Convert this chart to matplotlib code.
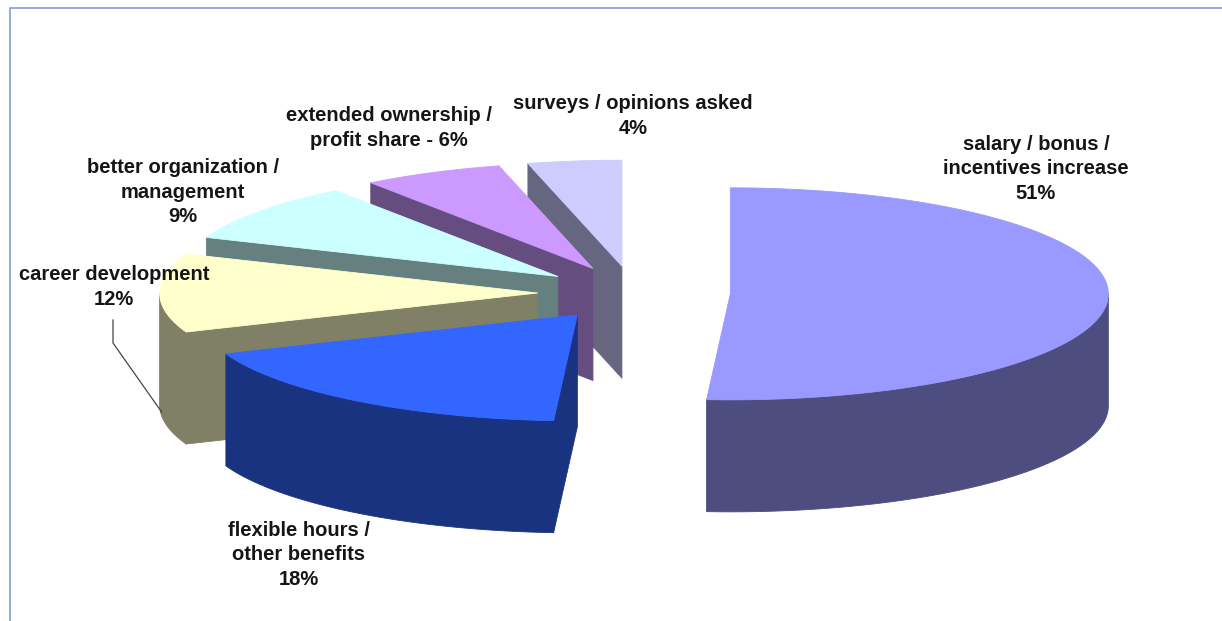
import numpy as np
import matplotlib
matplotlib.use('Agg')
import matplotlib.pyplot as plt
from matplotlib.patches import Polygon
from matplotlib.colors import to_rgb

# Ответы: что повысило бы мотивацию сотрудников
categories = ['salary / bonus /\nincentives increase',
              'flexible hours /\nother benefits',
              'career development',
              'better organization /\nmanagement',
              'extended ownership /\nprofit share',
              'surveys / opinions asked']
shares = [51, 18, 12, 9, 6, 4]
label_sep = ['\n', '\n', '\n', '\n', ' - ', '\n']
top_colors = ['#9999FF', '#3366FF', '#FFFFCC', '#CCFFFF', '#CC99FF', '#CCCCFF']

# Положение подписей (в пикселях холста)
label_xy = [(1036, 169), (299, 555), (114, 287), (183, 192), (389, 128), (633, 116)]

W, H = 1222, 621
CX, CY = 634, 293       # центр круга
RX, RY = 378, 106       # полуоси эллипса
DEPTH = 112             # толщина диска
EXPLODE = 0.255         # вынос секторов


def shade(color, k=0.5):
    return tuple(c * k for c in to_rgb(color))


def point(theta, mid, r=1.0, dz=0.0):
    t = np.radians(theta)
    m = np.radians(mid)
    x = CX + RX * (r * np.sin(t) + EXPLODE * np.sin(m))
    y = CY - RY * (r * np.cos(t) + EXPLODE * np.cos(m)) + dz
    return x, y


def arc(t0, t1, mid, dz=0.0):
    ts = np.linspace(t0, t1, max(int(abs(t1 - t0) * 2), 2))
    xs, ys = point(ts, mid, dz=dz)
    return list(zip(xs, ys))


def draw_slice(ax, t0, t1, color):
    mid = (t0 + t1) / 2
    side = shade(color)
    c_top = point(0, mid, r=0)
    c_bot = point(0, mid, r=0, dz=DEPTH)
    kw = dict(linewidth=0.6, joinstyle='round')

    # боковые радиальные стенки
    for t, normal in ((t0, t0 - 90), (t1, t1 + 90)):
        if np.cos(np.radians(normal)) < -1e-6:
            p_top = point(t, mid)
            p_bot = point(t, mid, dz=DEPTH)
            ax.add_patch(Polygon([c_top, p_top, p_bot, c_bot],
                                 facecolor=side, edgecolor=side, **kw))

    # внешняя стенка (видна только передняя половина)
    lo, hi = max(t0, 90), min(t1, 270)
    if hi > lo:
        pts = arc(lo, hi, mid) + arc(hi, lo, mid, dz=DEPTH)
        ax.add_patch(Polygon(pts, facecolor=side, edgecolor=side, **kw))

    # верхняя грань
    pts = [c_top] + arc(t0, t1, mid)
    ax.add_patch(Polygon(pts, facecolor=color, edgecolor=color, **kw))


def main():
    plt.rcParams['font.family'] = ['Liberation Sans', 'DejaVu Sans']

    fig = plt.figure(figsize=(W / 100, H / 100), dpi=100)
    ax = fig.add_axes([0, 0, 1, 1])
    ax.set_xlim(0, W)
    ax.set_ylim(H, 0)
    ax.axis('off')

    bounds = np.concatenate([[0], np.cumsum(shares)]) * 360.0 / sum(shares)
    slices = [(bounds[i], bounds[i + 1], top_colors[i]) for i in range(len(shares))]

    # рисуем от дальних секторов к ближним
    order = sorted(range(len(slices)),
                   key=lambda i: -np.cos(np.radians((slices[i][0] + slices[i][1]) / 2)))
    for i in order:
        draw_slice(ax, *slices[i])

    for name, val, sep, (x, y) in zip(categories, shares, label_sep, label_xy):
        ax.text(x, y, f'{name}{sep}{val}%', ha='center', va='center',
                multialignment='center', fontsize=14.5, fontweight='bold',
                color='#151515', linespacing=1.38)

    # выноска для "career development"
    t0, t1, _ = slices[2]
    ex, ey = point(264, (t0 + t1) / 2, dz=DEPTH)
    lx, ly = label_xy[2]
    ax.plot([lx - 1, lx - 1, ex], [ly + 33, ly + 56, ey - 4],
            color='#444444', linewidth=0.9)

    # рамка области диаграммы
    ax.plot([10, 10, W + 5], [H + 5, 8, 8], color='#8FAADC',
            linewidth=1.4, clip_on=False)

    fig.savefig('out.png', dpi=100, facecolor='white')


if __name__ == '__main__':
    main()
